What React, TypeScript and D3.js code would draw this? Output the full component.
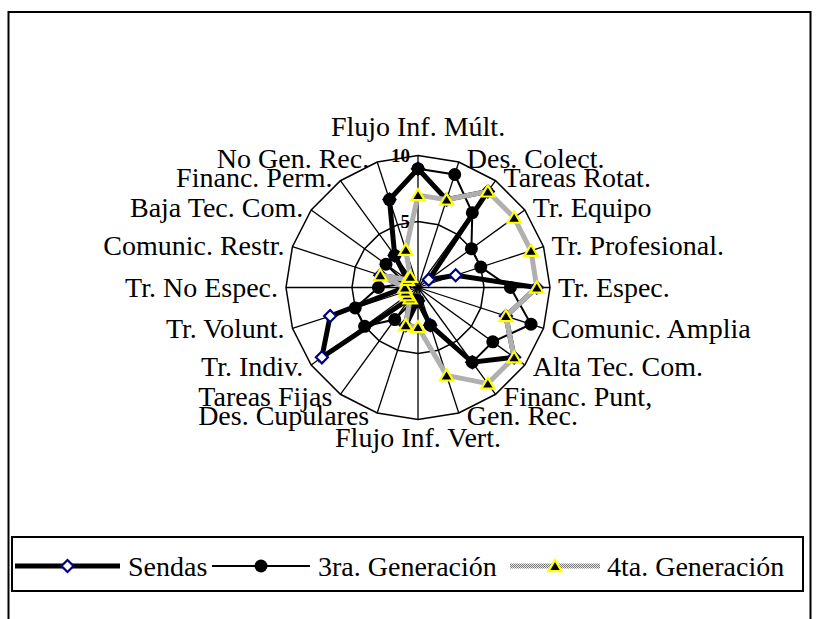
import React, { useEffect, useRef } from 'react';
import * as d3 from 'd3';

// Axes, clockwise from the top
const categories = [
  'Flujo Inf. Múlt.', 'Des. Colect.', 'Tareas Rotat.', 'Tr. Equipo', 'Tr. Profesional.',
  'Tr. Espec.', 'Comunic. Amplia', 'Alta Tec. Com.', 'Financ. Punt,', 'Gen. Rec.',
  'Flujo Inf. Vert.', 'Des. Cupulares', 'Tareas Fijas', 'Tr. Indiv.', 'Tr. Volunt.',
  'Tr. No Espec.', 'Comunic. Restr.', 'Baja Tec. Com.', 'Financ. Perm.', 'No Gen. Rec.'
];

const sendas = [9, 7, 9, 1, 3, 9, 7, 9, 7, 3, 1, 3, 1, 9, 7, 1, 3, 1, 3, 7];
const terceraGen = [9, 9, 7, 5, 5, 7, 9, 7, 7, 3, 1, 1, 3, 5, 5, 3, 1, 3, 3, 7];
const cuartaGen = [7, 7, 9, 9, 9, 9, 7, 9, 9, 7, 3, 3, 1, 1, 1, 1, 3, 1, 1, 3];

const tickValues = [0, 5, 10];
const seriesNames = ['Sendas', '3ra. Generación', '4ta. Generación'];

const FONT = "'Liberation Serif', 'Times New Roman', serif";

export default function App() {
  const svgRef = useRef<SVGSVGElement>(null);

  useEffect(() => {
    if (!svgRef.current) return;
    const svg = d3.select(svgRef.current);
    svg.selectAll('*').remove();

    const cx = 418;
    const cy = 287.5;
    const n = categories.length;
    const step = (2 * Math.PI) / n;

    const r = d3.scaleLinear().domain([0, 10]).range([0, 132]);

    // hatched grey for the 4ta. Generación line
    const defs = svg.append('defs');
    const pat = defs.append('pattern')
      .attr('id', 'hatch')
      .attr('patternUnits', 'userSpaceOnUse')
      .attr('width', 2)
      .attr('height', 2);
    pat.append('rect').attr('width', 2).attr('height', 2).attr('fill', '#e6e6e6');
    pat.append('rect').attr('width', 1).attr('height', 1).attr('fill', '#7a7a7a');
    pat.append('rect').attr('x', 1).attr('y', 1).attr('width', 1).attr('height', 1).attr('fill', '#7a7a7a');

    // outer frame
    svg.append('rect')
      .attr('x', 8.5).attr('y', 12).attr('width', 802).attr('height', 640)
      .attr('fill', 'none').attr('stroke', '#000').attr('stroke-width', 2);

    const g = svg.append('g').attr('transform', `translate(${cx},${cy})`);

    const px = (i: number, v: number) => r(v) * Math.sin(i * step);
    const py = (i: number, v: number) => -r(v) * Math.cos(i * step);

    // grid rings
    const ring = d3.lineRadial<number>()
      .angle((_, i) => i * step)
      .radius(d => r(d))
      .curve(d3.curveLinearClosed);

    tickValues.filter(t => t > 0).forEach(t => {
      g.append('path')
        .attr('d', ring(categories.map(() => t)) as string)
        .attr('fill', 'none')
        .attr('stroke', '#000')
        .attr('stroke-width', 1.5);
    });

    // spokes
    g.selectAll('line.spoke')
      .data(categories)
      .join('line')
      .attr('x1', 0).attr('y1', 0)
      .attr('x2', (_, i) => px(i, 10))
      .attr('y2', (_, i) => py(i, 10))
      .attr('stroke', '#000')
      .attr('stroke-width', 1.3);

    // category labels
    g.selectAll('text.cat')
      .data(categories)
      .join('text')
      .style('font-family', FONT)
      .style('font-size', '28px')
      .attr('fill', '#000')
      .each(function (d, i) {
        const a = i * step;
        const vx = px(i, 10);
        const vy = py(i, 10);
        const t = d3.select(this).text(d);
        if (i === 0) {
          t.attr('text-anchor', 'middle').attr('x', vx).attr('y', vy - 20);
        } else if (i === n / 2) {
          t.attr('text-anchor', 'middle').attr('x', vx).attr('y', vy + 27);
        } else {
          const right = Math.sin(a) > 0;
          t.attr('text-anchor', right ? 'start' : 'end')
            .attr('x', vx + (right ? 8 : -8))
            .attr('y', vy + 9 - 3 * Math.cos(a));
        }
      });

    // tick labels
    g.selectAll('text.tick')
      .data(tickValues)
      .join('text')
      .style('font-family', FONT)
      .style('font-size', '19px')
      .style('font-weight', 'bold')
      .attr('text-anchor', 'end')
      .attr('x', -8)
      .attr('y', d => -r(d) + 6.5)
      .text(d => d);

    const line = d3.lineRadial<number>()
      .angle((_, i) => i * step)
      .radius(d => r(d))
      .curve(d3.curveLinearClosed);

    const diamond = (s: number) => `M0,${-s}L${s},0L0,${s}L${-s},0Z`;
    const triangle = (s: number) => `M0,${-s}L${s * 1.1},${s * 0.85}L${-s * 1.1},${s * 0.85}Z`;

    // Sendas
    g.append('path')
      .attr('d', line(sendas) as string)
      .attr('fill', 'none').attr('stroke', '#000').attr('stroke-width', 5)
      .attr('stroke-linejoin', 'miter');
    g.selectAll('path.dia')
      .data(sendas)
      .join('path')
      .attr('d', diamond(6))
      .attr('transform', (d, i) => `translate(${px(i, d)},${py(i, d)})`)
      .attr('fill', '#fff').attr('stroke', '#000080').attr('stroke-width', 2.2);

    // 3ra. Generación
    g.append('path')
      .attr('d', line(terceraGen) as string)
      .attr('fill', 'none').attr('stroke', '#000').attr('stroke-width', 2);
    g.selectAll('circle.c3')
      .data(terceraGen)
      .join('circle')
      .attr('cx', (d, i) => px(i, d))
      .attr('cy', (d, i) => py(i, d))
      .attr('r', 6.5)
      .attr('fill', '#000');

    // 4ta. Generación
    g.append('path')
      .attr('d', line(cuartaGen) as string)
      .attr('fill', 'none').attr('stroke', 'url(#hatch)').attr('stroke-width', 5);
    g.selectAll('path.tri')
      .data(cuartaGen)
      .join('path')
      .attr('d', triangle(6))
      .attr('transform', (d, i) => `translate(${px(i, d)},${py(i, d)})`)
      .attr('fill', '#000').attr('stroke', '#ffff00').attr('stroke-width', 2.2)
      .attr('stroke-linejoin', 'miter');

    // legend
    const lg = svg.append('g');
    lg.append('rect')
      .attr('x', 12).attr('y', 537).attr('width', 791).attr('height', 54)
      .attr('fill', '#fff').attr('stroke', '#000').attr('stroke-width', 2);
    const ly = 566;
    const items = [
      { x0: 15, x1: 120, tx: 128 },
      { x0: 212, x1: 310, tx: 318 },
      { x0: 510, x1: 600, tx: 607 }
    ];
    items.forEach((it, k) => {
      const mx = (it.x0 + it.x1) / 2;
      if (k === 0) {
        lg.append('line').attr('x1', it.x0).attr('x2', it.x1).attr('y1', ly).attr('y2', ly)
          .attr('stroke', '#000').attr('stroke-width', 5);
        lg.append('path').attr('d', diamond(6)).attr('transform', `translate(${mx},${ly})`)
          .attr('fill', '#fff').attr('stroke', '#000080').attr('stroke-width', 2.2);
      } else if (k === 1) {
        lg.append('line').attr('x1', it.x0).attr('x2', it.x1).attr('y1', ly).attr('y2', ly)
          .attr('stroke', '#000').attr('stroke-width', 2);
        lg.append('circle').attr('cx', mx).attr('cy', ly).attr('r', 6.5).attr('fill', '#000');
      } else {
        lg.append('line').attr('x1', it.x0).attr('x2', it.x1).attr('y1', ly).attr('y2', ly)
          .attr('stroke', 'url(#hatch)').attr('stroke-width', 5);
        lg.append('path').attr('d', triangle(6)).attr('transform', `translate(${mx},${ly})`)
          .attr('fill', '#000').attr('stroke', '#ffff00').attr('stroke-width', 2.2);
      }
      lg.append('text')
        .attr('x', it.tx).attr('y', ly + 10)
        .style('font-family', FONT).style('font-size', '28px')
        .text(seriesNames[k]);
    });
  }, []);

  return (
    <svg
      ref={svgRef}
      width={819}
      height={619}
      style={{ position: 'absolute', left: 0, top: 0, background: '#fff' }}
    />
  );
}
